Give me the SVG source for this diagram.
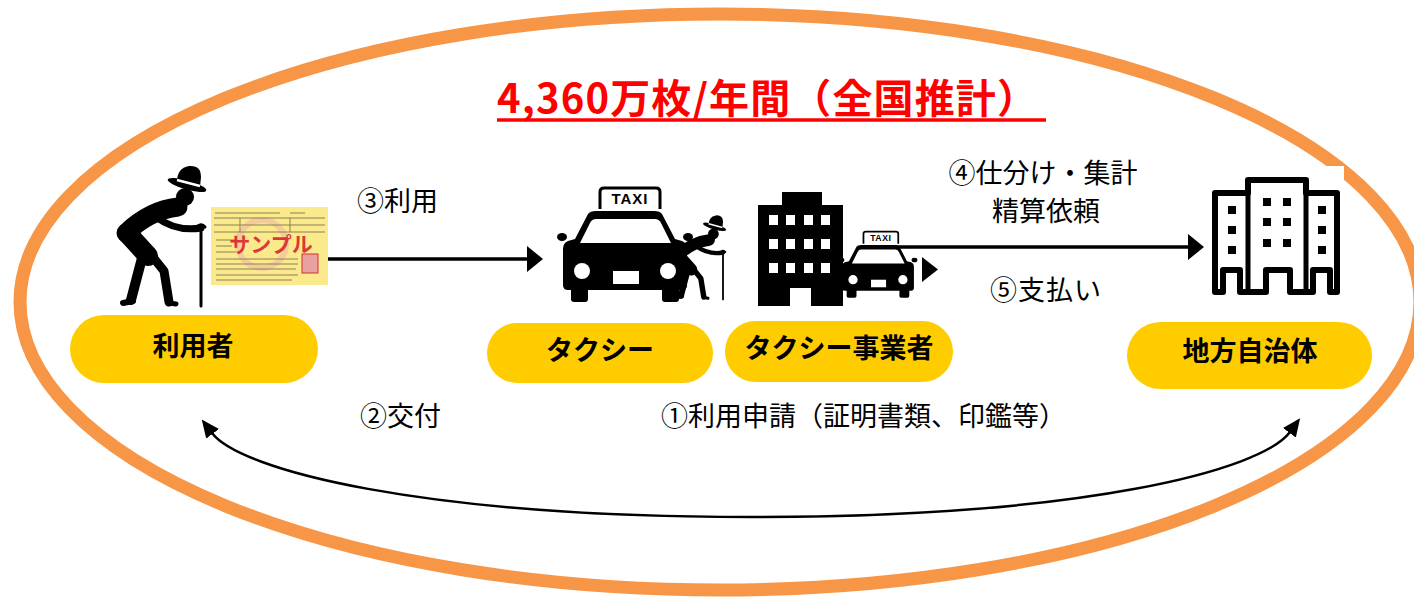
<svg xmlns="http://www.w3.org/2000/svg" width="1414" height="598" viewBox="0 0 1414 598">
  <defs>
    <style>
      .pill { fill: #FFCC00; }
      .nl { font-family: "Noto Sans CJK JP", "Noto Sans", sans-serif; font-weight: 700; font-size: 27px; fill: #000; text-anchor: middle; }
      .lb { font-family: "Noto Sans CJK JP", "Noto Sans", sans-serif; font-size: 27px; fill: #000; }
      .mid { text-anchor: middle; }
      .limb { fill: none; stroke: #000; stroke-linecap: round; stroke-linejoin: round; }
      .flow { fill: none; stroke: #000; }
      .tk { fill: none; stroke: #8c7f5a; stroke-width: 1; }
    </style>
    <marker id="headBig" markerUnits="userSpaceOnUse" viewBox="0 0 16 26" refX="1" refY="13" markerWidth="16" markerHeight="26" orient="auto">
      <path d="M0 0 L16 13 L0 26 Z" fill="#000"/>
    </marker>
    <marker id="headCurve" markerUnits="userSpaceOnUse" viewBox="0 0 18 16" refX="1" refY="8" markerWidth="18" markerHeight="16" orient="auto-start-reverse">
      <path d="M0 0 L18 8 L0 16 Z" fill="#000"/>
    </marker>

    <!-- elderly person with a cane -->
    <g id="elder">
      <path d="M177 182 Q177 168 189 166 Q201 165 201 177 L200 187 Z" fill="#000"/>
      <ellipse cx="187" cy="185" rx="20" ry="4.5" transform="rotate(16 187 185)" fill="#000"/>
      <path d="M177 180 L200 186" stroke="#fff" stroke-width="2.5"/>
      <circle cx="185" cy="197" r="9" fill="#000"/>
      <path class="limb" d="M178 207 Q150 210 126 233" stroke-width="19"/>
      <path class="limb" d="M127 233 Q140 247 148 256" stroke-width="20"/>
      <path class="limb" d="M156 217 Q176 232 201 228" stroke-width="7"/>
      <path class="limb" d="M142 258 L131 300" stroke-width="10"/>
      <path class="limb" d="M133 301 L123 303" stroke-width="6"/>
      <path class="limb" d="M152 256 L164 271 L169 302" stroke-width="9"/>
      <path class="limb" d="M169 303 L176 304" stroke-width="5"/>
      <path class="limb" d="M201 226 L201 306" stroke-width="3"/>
      <path class="limb" d="M196 228 Q201 222 205 227" stroke-width="3"/>
    </g>

    <!-- front view of a taxi -->
    <g id="taxi">
      <path d="M37 22 V5 Q37 1 41 1 H93 Q97 1 97 5 V22" fill="#fff" stroke="#000" stroke-width="3"/>
      <text x="67" y="17" font-family="Liberation Sans, Arial, sans-serif" font-weight="700" font-size="15" letter-spacing="1" text-anchor="middle" fill="#000">TAXI</text>
      <path d="M25 27 Q27 24 33 24 H91 Q97 24 99 27 L112 52 L119 54 Q124 56 124 62 V98 Q124 103 119 103 H5 Q0 103 0 98 V62 Q0 56 5 54 L12 52 Z" fill="#000"/>
      <ellipse cx="-1" cy="50" rx="5" ry="4" fill="#000"/>
      <ellipse cx="125" cy="50" rx="5" ry="4" fill="#000"/>
      <rect x="8" y="98" width="17" height="17" rx="3" fill="#000"/>
      <rect x="99" y="98" width="17" height="17" rx="3" fill="#000"/>
      <path d="M33 32 H92 Q96 32 98 36 L108 56 H17 L27 36 Q29 32 33 32 Z" fill="#fff"/>
      <circle cx="19" cy="84" r="8" fill="#fff"/>
      <circle cx="105" cy="84" r="8" fill="#fff"/>
      <rect x="50" y="84" width="26" height="13" fill="#fff"/>
    </g>
  </defs>

  <rect width="1414" height="598" fill="#fff"/>

  <!-- surrounding ring -->
  <ellipse cx="720" cy="302" rx="700" ry="288" fill="none" stroke="#F79646" stroke-width="13"/>

  <!-- headline -->
  <g id="title">
    <text x="497" y="113" font-family="Noto Sans CJK JP, Noto Sans, sans-serif" font-weight="700" font-size="40" fill="#FF0000" textLength="540" lengthAdjust="spacing">4,360万枚/年間（全国推計）</text>
    <line x1="497" y1="120" x2="1046" y2="120" stroke="#FF0000" stroke-width="3.5"/>
  </g>

  <!-- user -->
  <g id="user">
    <use href="#elder"/>
    <g id="ticket">
      <rect x="211" y="207" width="117" height="78" fill="#FBEA8C"/>
      <circle cx="262" cy="244" r="24" fill="none" stroke="#EFB9A0" stroke-width="6" opacity="0.6"/>
      <path class="tk" d="M215 213 H280 M290 213 H305"/>
      <path class="tk" d="M214 218 H325 M214 225 H325 M214 232 H325 M240 218 V232 M290 218 V232"/>
      <path class="tk" d="M216 240 H236 M216 246 H232 M216 252 H236 M216 259 H298 M216 264 H298 M216 269 H296 M216 275 H298 M216 280 H292"/>
      <rect x="302" y="254" width="16" height="19" fill="#E8A0A0" stroke="#D03030" stroke-width="1"/>
      <text x="271" y="252" font-family="Noto Sans CJK JP, sans-serif" font-size="21" font-weight="700" fill="#D7262C" text-anchor="middle" opacity="0.9">サンプル</text>
    </g>
    <rect class="pill" x="70" y="315" width="248" height="68" rx="34"/>
    <text class="nl" x="193" y="356">利用者</text>
  </g>

  <!-- taxi -->
  <g id="taxi-node">
    <use href="#taxi" transform="translate(563 187)"/>
    <use href="#elder" transform="translate(602.4 115.8) scale(0.6)"/>
    <rect class="pill" x="487" y="323" width="226" height="60" rx="30"/>
    <text class="nl" x="600" y="360">タクシー</text>
  </g>

  <!-- taxi operator -->
  <g id="operator">
    <path d="M782 192 H822 V205 H843 V306 H758 V205 H782 Z" fill="#000"/>
    <g fill="#fff">
      <rect x="769" y="215" width="9" height="10"/><rect x="786" y="215" width="9" height="10"/><rect x="804" y="215" width="9" height="10"/><rect x="821" y="215" width="9" height="10"/>
      <rect x="769" y="239" width="9" height="10"/><rect x="786" y="239" width="9" height="10"/><rect x="804" y="239" width="9" height="10"/><rect x="821" y="239" width="9" height="10"/>
      <rect x="769" y="263" width="9" height="10"/><rect x="786" y="263" width="9" height="10"/><rect x="804" y="263" width="9" height="10"/><rect x="821" y="263" width="9" height="10"/>
      <rect x="790" y="288" width="21" height="18"/>
    </g>
    <use href="#taxi" transform="translate(842 231) scale(0.58)"/>
    <path d="M922 257 L938 269.5 L922 282 Z" fill="#000"/>
    <rect class="pill" x="725" y="321" width="228" height="61" rx="30.5"/>
    <text class="nl" x="839" y="358">タクシー事業者</text>
  </g>

  <!-- local government -->
  <g id="government">
    <rect x="1200" y="166" width="144" height="140" fill="#fff"/>
    <path d="M1215 292 V193 H1248 V180 H1306 V193 H1337 V292 H1330 V270 H1313 V292 H1290 V270 H1266 V292 H1240 V270 H1223 V292 Z" fill="#fff" stroke="#000" stroke-width="6" stroke-linejoin="round"/>
    <path d="M1248 193 V292 M1306 193 V292" stroke="#000" stroke-width="5"/>
    <g fill="#000">
      <rect x="1263" y="198" width="8" height="8"/><rect x="1283" y="198" width="8" height="8"/>
      <rect x="1263" y="218" width="8" height="8"/><rect x="1283" y="218" width="8" height="8"/>
      <rect x="1263" y="239" width="8" height="8"/><rect x="1283" y="239" width="8" height="8"/>
      <rect x="1228" y="206" width="8" height="8"/><rect x="1228" y="226" width="8" height="8"/><rect x="1228" y="246" width="8" height="8"/>
      <rect x="1318" y="206" width="8" height="8"/><rect x="1318" y="226" width="8" height="8"/><rect x="1318" y="246" width="8" height="8"/>
    </g>
    <rect class="pill" x="1127" y="322" width="245" height="67" rx="33.5"/>
    <text class="nl" x="1250" y="361">地方自治体</text>
  </g>

  <!-- connectors -->
  <g id="connectors">
    <path class="flow" d="M328 259 H528" stroke-width="3.5" marker-end="url(#headBig)"/>
    <path class="flow" d="M872 247 H1189" stroke-width="3.5" marker-end="url(#headBig)"/>
    <path class="flow" d="M212 433 C240 470 420 517 752 517 C1085 517 1262 470 1290 432" stroke-width="2.5" marker-start="url(#headCurve)" marker-end="url(#headCurve)"/>
  </g>

  <!-- connector labels -->
  <g id="labels">
    <text class="lb mid" x="1043" y="183" font-size="26">④仕分け・集計</text>
    <text class="lb mid" x="1046" y="221" font-size="26">精算依頼</text>
    <text class="lb" x="357" y="211">③利用</text>
    <text class="lb mid" x="1046" y="300" font-size="29" letter-spacing="1">⑤支払い</text>
    <text class="lb" x="360" y="426">②交付</text>
    <text class="lb" x="661" y="426" font-size="28">①利用申請（証明書類、印鑑等）</text>
  </g>
</svg>
